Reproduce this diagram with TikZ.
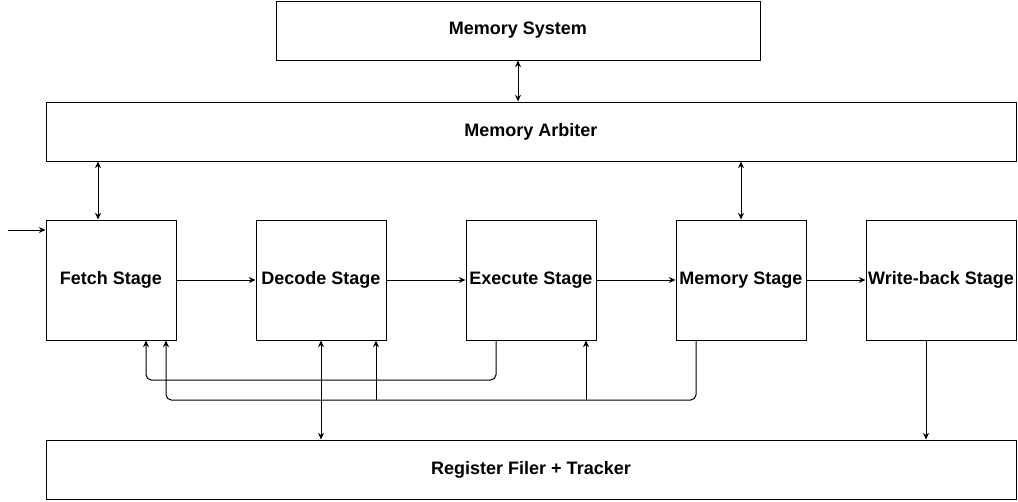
\documentclass[tikz,border=0pt]{standalone}
\usepackage{fontspec}
\setmainfont{Liberation Sans}
\usetikzlibrary{arrows.meta,calc}
\begin{document}
\begin{tikzpicture}[x=0.75pt,y=-0.75pt,
  box/.style={draw,line width=0.75pt,inner sep=0pt,font=\bfseries\fontsize{13.5pt}{16pt}\selectfont},
  conn/.style={line width=0.75pt,-{Stealth[length=5pt,width=4.5pt]}},
  dconn/.style={line width=0.75pt,{Stealth[length=5pt,width=4.5pt]}-{Stealth[length=5pt,width=4.5pt]}},
  plain/.style={line width=0.75pt,rounded corners=4pt}]
\useasboundingbox (0,0) rectangle (1018,501);
\node[box,minimum width=363pt,minimum height=44.25pt] (ms) at (518,30.5) {Memory System};
\node[box,minimum width=727.5pt,minimum height=44.25pt] (arb) at (531,131.5) {Memory Arbiter};
\node[box,minimum width=97.5pt,minimum height=90pt] (fetch) at (111,280) {Fetch Stage};
\node[box,minimum width=97.5pt,minimum height=90pt] (dec) at (321,280) {Decode Stage};
\node[box,minimum width=97.5pt,minimum height=90pt] (ex) at (531,280) {Execute Stage};
\node[box,minimum width=97.5pt,minimum height=90pt] (mem) at (741,280) {Memory Stage};
\node[box,minimum width=112.5pt,minimum height=90pt] (wb) at (941,280) {Write-back Stage};
\node[box,minimum width=727.5pt,minimum height=44.25pt] (reg) at (531,469.5) {Register Filer + Tracker};
\coordinate (in) at (8,230);
% vertical links to memory
\draw[dconn] (ms.south) -- (ms.south |- arb.north);
\draw[dconn] (arb.south -| 98,0) -- (fetch.north -| 98,0);
\draw[dconn] (arb.south -| 741,0) -- (mem.north);
% input
\draw[conn] (in) -- (in -| fetch.west);
% pipeline
\draw[conn] (fetch.east) -- (dec.west);
\draw[conn] (dec.east) -- (ex.west);
\draw[conn] (ex.east) -- (mem.west);
\draw[conn] (mem.east) -- (wb.west);
% feedback lines
\draw[plain,conn] (ex.south -| 496,0) -- (496,380) -- (146,380) -- (fetch.south -| 146,0);
\draw[plain,conn] (mem.south -| 696,0) -- (696,400) -- (166,400) -- (fetch.south -| 166,0);
\draw[conn] (376,400) -- (dec.south -| 376,0);
\draw[conn] (586,400) -- (ex.south -| 586,0);
% register links
\draw[dconn] (dec.south) -- (dec.south |- reg.north);
\draw[conn] (wb.south -| 926,0) -- (reg.north -| 926,0);
\end{tikzpicture}
\end{document}
